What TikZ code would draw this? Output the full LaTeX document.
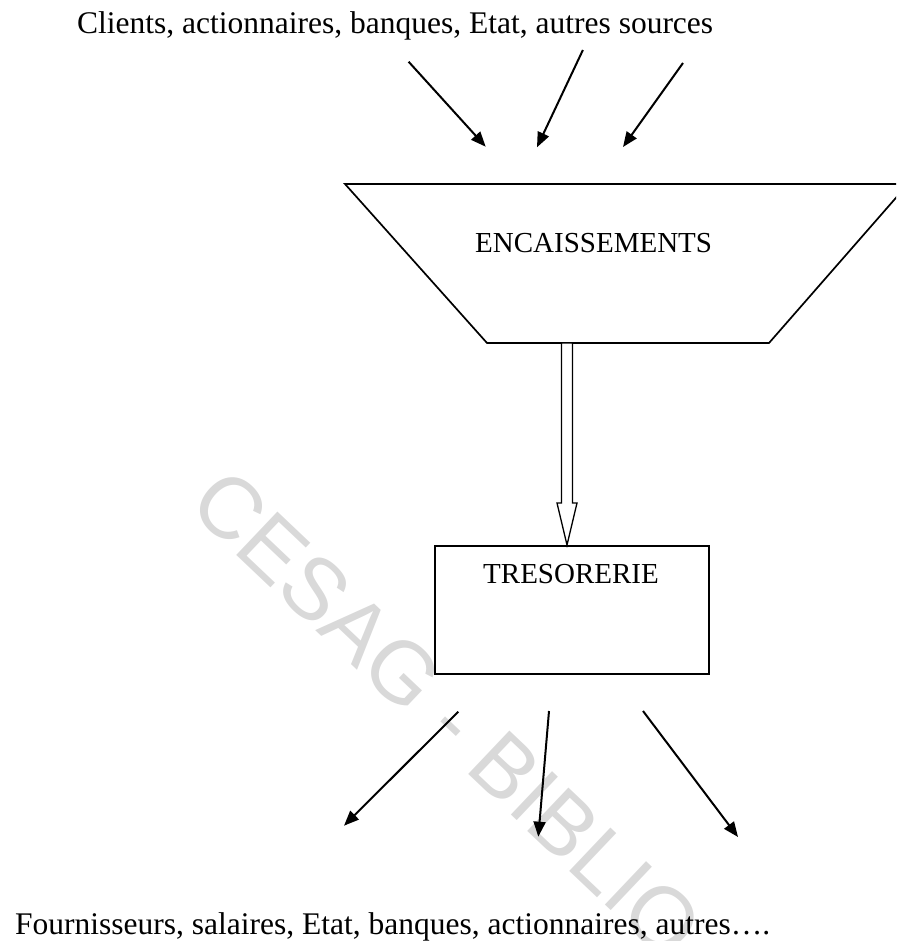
\documentclass[tikz,border=0pt]{standalone}
\usepackage{fontspec}
\setmainfont{Liberation Serif}
\newfontfamily\wmfont{Liberation Sans}
\usetikzlibrary{arrows.meta}
\begin{document}
\begin{tikzpicture}[x=1pt,y=-1pt,
  flow/.style={-{Triangle[length=15pt,width=12pt]}, line width=2pt},
  outerlbl/.style={inner sep=0pt, anchor=base west, font=\fontsize{31.5}{38}\selectfont},
  boxlbl/.style={inner sep=0pt, anchor=base west, font=\fontsize{29}{35}\selectfont},
  shapeline/.style={line width=1.7pt},
  watermark/.style={inner sep=0pt, anchor=base west, rotate=-43.5, text=black!15,
    font=\wmfont\fontsize{87}{100}\selectfont}]
\useasboundingbox (0,0) rectangle (896,941);
\clip (0,0) rectangle (896,941);
% watermark
\node[watermark] (wm) at (186,507) {CESAG - BIBLIO};
% texts
\node[outerlbl] (sources) at (77,34) {Clients, actionnaires, banques, Etat, autres sources};
\node[outerlbl] (uses) at (15,934) {Fournisseurs, salaires, Etat, banques, actionnaires, autres\dots.};
% trapezoid
\coordinate (tl) at (345,184);
\coordinate (tr) at (908,184);
\coordinate (br) at (769,343);
\coordinate (bl) at (487,343);
\draw[shapeline] (tl) -- (tr) -- (br) -- (bl) -- cycle;
\node[boxlbl] (enc) at (475,252) {ENCAISSEMENTS};
% tresorerie box
\node[draw, shapeline, minimum width=274pt, minimum height=128pt, inner sep=0pt, anchor=north west] (treso) at (434,545) {};
\node[boxlbl] (tresolbl) at (483,583) {TRESORERIE};
% block arrow
\draw[line width=1.3pt, fill=white] (561.5,343) -- (561.5,503) -- (557,503) -- (treso.north -| 567,543) -- (577,503) -- (572.5,503) -- (572.5,343) -- cycle;
% incoming arrows
\coordinate (a1s) at (408.6,61.7); \coordinate (a1e) at (485.7,146.7);
\coordinate (a2s) at (582.9,50);   \coordinate (a2e) at (537,147.3);
\coordinate (a3s) at (683,63);     \coordinate (a3e) at (623,147);
\draw[flow] (a1s) -- (a1e);
\draw[flow] (a2s) -- (a2e);
\draw[flow] (a3s) -- (a3e);
% outgoing arrows
\coordinate (b1s) at (458.3,711.7); \coordinate (b1e) at (344,825.7);
\coordinate (b2s) at (549,711);     \coordinate (b2e) at (538.3,836.7);
\coordinate (b3s) at (643,711);     \coordinate (b3e) at (738,837);
\draw[flow] (b1s) -- (b1e);
\draw[flow] (b2s) -- (b2e);
\draw[flow] (b3s) -- (b3e);
\end{tikzpicture}
\end{document}
